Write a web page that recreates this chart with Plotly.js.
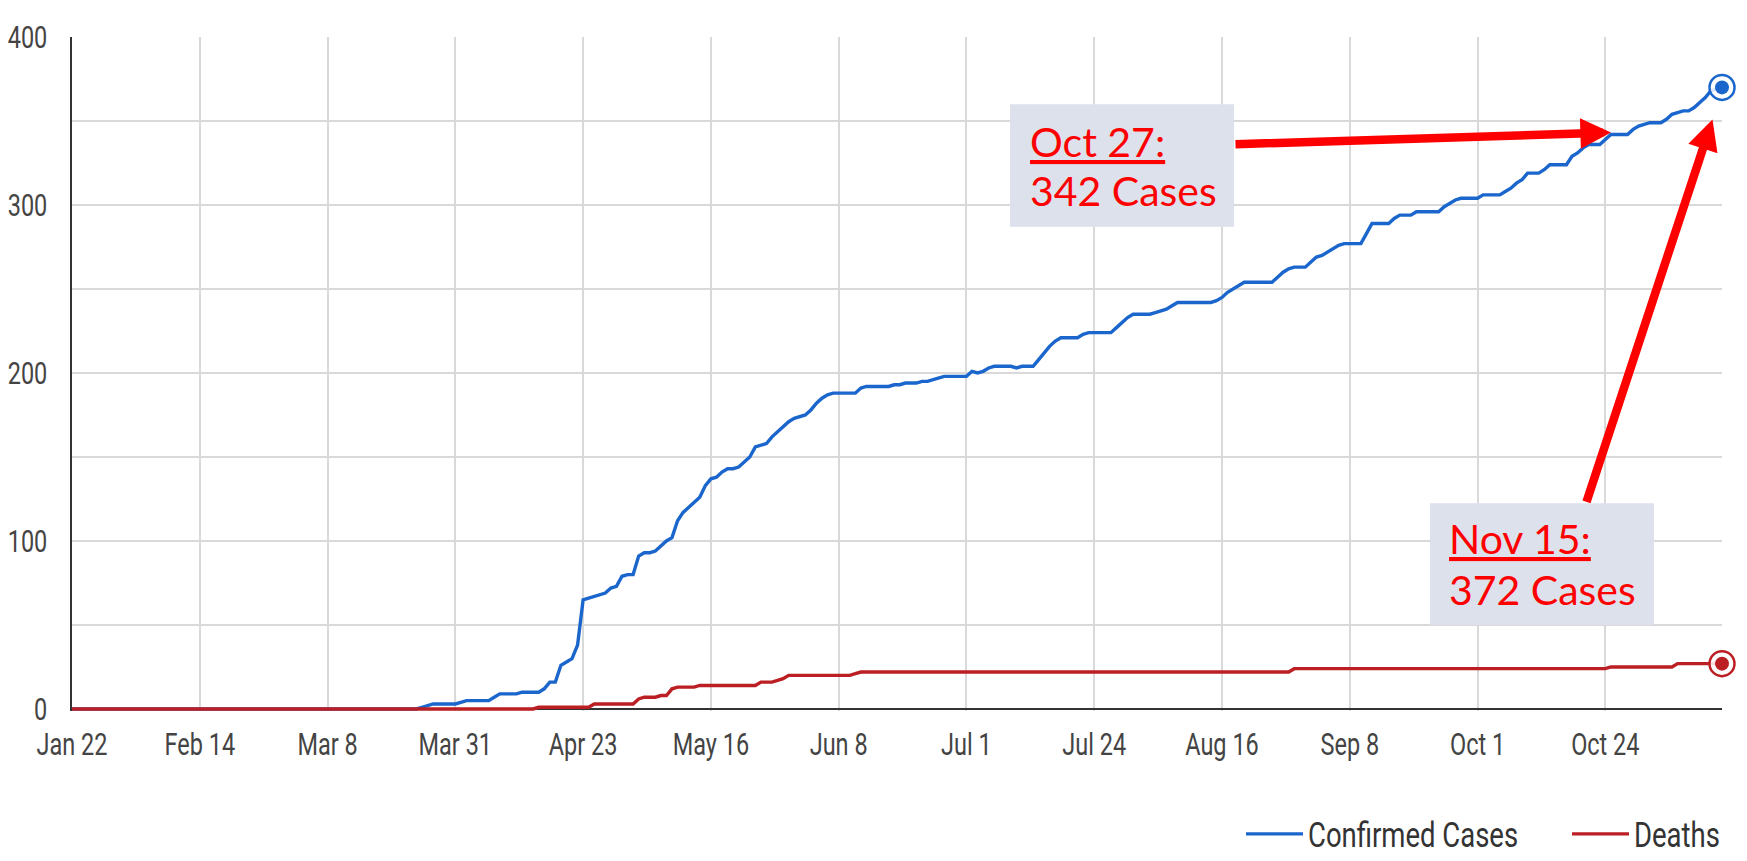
<!DOCTYPE html>
<html>
<head>
<meta charset="utf-8">
<script src="https://cdn.plot.ly/plotly-3.0.1.min.js"></script>
<style>
html, body { margin: 0; padding: 0; background: #ffffff; }
#chart { width: 1747px; height: 861px; }
.xtick, .ytick { transform-box: fill-box; transform-origin: 50% 50%; transform: scaleY(1.33); }
.legendtext { transform-box: fill-box; transform-origin: 50% 50%; transform: scaleY(1.28); }
</style>
</head>
<body>
<div id="chart"></div>
<script>
// ---------------- data ----------------
const startDate = '2020-01-22';
const endDate = '2020-11-14';
const seriesNames = ['Confirmed Cases', 'Deaths'];

// daily cumulative confirmed cases, Jan 22 .. Nov 14
const confirmedCases = [
  0,0,0,0,0,0,0,0,0,0,
  0,0,0,0,0,0,0,0,0,0,
  0,0,0,0,0,0,0,0,0,0,
  0,0,0,0,0,0,0,0,0,0,
  0,0,0,0,0,0,0,0,0,0,
  0,0,0,0,0,0,0,0,0,0,
  0,0,0,1,2,3,3,3,3,3,
  4,5,5,5,5,5,7,9,9,9,
  9,10,10,10,10,12,16,16,26,28,
  30,38,65,66,67,68,69,72,73,79,
  80,80,91,93,93,94,97,100,102,112,
  117,120,123,126,133,137,138,141,143,143,
  144,147,150,156,157,158,162,165,168,171,
  173,174,175,178,182,185,187,188,188,188,
  188,188,191,192,192,192,192,192,193,193,
  194,194,194,195,195,196,197,198,198,198,
  198,198,201,200,201,203,204,204,204,204,
  203,204,204,204,208,212,216,219,221,221,
  221,221,223,224,224,224,224,224,227,230,
  233,235,235,235,235,236,237,238,240,242,
  242,242,242,242,242,242,243,245,248,250,
  252,254,254,254,254,254,254,257,260,262,
  263,263,263,266,269,270,272,274,276,277,
  277,277,277,283,289,289,289,289,292,294,
  294,294,296,296,296,296,296,299,301,303,
  304,304,304,304,306,306,306,306,308,310,
  313,315,319,319,319,321,324,324,324,324,
  329,331,334,336,336,336,339,342,342,342,
  342,345,347,348,349,349,349,351,354,355,
  356,356,358,361,364,368,369,370
];

// daily cumulative deaths, Jan 22 .. Nov 14
const deaths = [
  0,0,0,0,0,0,0,0,0,0,
  0,0,0,0,0,0,0,0,0,0,
  0,0,0,0,0,0,0,0,0,0,
  0,0,0,0,0,0,0,0,0,0,
  0,0,0,0,0,0,0,0,0,0,
  0,0,0,0,0,0,0,0,0,0,
  0,0,0,0,0,0,0,0,0,0,
  0,0,0,0,0,0,0,0,0,0,
  0,0,0,0,1,1,1,1,1,1,
  1,1,1,1,3,3,3,3,3,3,
  3,3,6,7,7,7,8,8,12,13,
  13,13,13,14,14,14,14,14,14,14,
  14,14,14,14,16,16,16,17,18,20,
  20,20,20,20,20,20,20,20,20,20,
  20,21,22,22,22,22,22,22,22,22,
  22,22,22,22,22,22,22,22,22,22,
  22,22,22,22,22,22,22,22,22,22,
  22,22,22,22,22,22,22,22,22,22,
  22,22,22,22,22,22,22,22,22,22,
  22,22,22,22,22,22,22,22,22,22,
  22,22,22,22,22,22,22,22,22,22,
  22,22,22,22,22,22,22,22,22,22,
  24,24,24,24,24,24,24,24,24,24,
  24,24,24,24,24,24,24,24,24,24,
  24,24,24,24,24,24,24,24,24,24,
  24,24,24,24,24,24,24,24,24,24,
  24,24,24,24,24,24,24,24,24,24,
  24,24,24,24,24,24,24,25,25,25,
  25,25,25,25,25,25,25,25,25,27,
  27,27,27,27,27,27,27,27
];

const tickDates = ['2020-01-22','2020-02-14','2020-03-08','2020-03-31','2020-04-23','2020-05-16',
  '2020-06-08','2020-07-01','2020-07-24','2020-08-16','2020-09-08','2020-10-01','2020-10-24'];
const tickLabels = ['Jan 22','Feb 14','Mar 8','Mar 31','Apr 23','May 16',
  'Jun 8','Jul 1','Jul 24','Aug 16','Sep 8','Oct 1','Oct 24'];
const yTickValues = [0, 100, 200, 300, 400];

const calloutDates = ['<u>Oct 27:</u>', '<u>Nov 15:</u>'];
const calloutCases = ['342 Cases', '372 Cases'];

// ---------------- style ----------------
const BLUE = '#1a66cc';
const RED = '#bb1f24';
const CALLOUT_RED = '#ff0000';
const BOX_FILL = '#dde1ec';
const GRID = '#d9d9d9';
const DAY_MS = 86400000;

// plot area in pixels
const M = { l: 72, r: 25, t: 37, b: 150, autoexpand: false };
const PW = 1747 - M.l - M.r;
const PH = 861 - M.t - M.b;
const px = p => (p - M.l) / PW;           // pixel x -> paper x
const py = p => (M.t + PH - p) / PH;      // pixel y -> paper y

const lastCases = confirmedCases[confirmedCases.length - 1];
const lastDeaths = deaths[deaths.length - 1];

function endMarkers(value, color) {
  return [
    { x: [endDate], y: [value], type: 'scatter', mode: 'markers', showlegend: false, hoverinfo: 'skip',
      cliponaxis: false,
      marker: { size: 25, color: 'rgba(255,255,255,0.85)', line: { color: color, width: 2.5 } } },
    { x: [endDate], y: [value], type: 'scatter', mode: 'markers', showlegend: false, hoverinfo: 'skip',
      cliponaxis: false,
      marker: { size: 14, color: color, line: { width: 0 } } }
  ];
}

const traces = [
  { y: confirmedCases, x0: startDate, dx: DAY_MS, type: 'scatter', mode: 'lines', name: seriesNames[0],
    line: { color: BLUE, width: 3.4 }, legendwidth: 254 },
  { y: deaths, x0: startDate, dx: DAY_MS, type: 'scatter', mode: 'lines', name: seriesNames[1],
    line: { color: RED, width: 3.4 } },
  ...endMarkers(lastCases, BLUE),
  ...endMarkers(lastDeaths, RED)
];

const textFont = { family: 'Lato, "Open Sans", sans-serif', size: 41, color: CALLOUT_RED };

function calloutText(text, leftPx, topPx) {
  return { xref: 'paper', yref: 'paper', x: px(leftPx), y: py(topPx), xanchor: 'left', yanchor: 'top',
    text: text, showarrow: false, align: 'left', font: textFont, borderpad: 0, borderwidth: 0 };
}

const layout = {
  width: 1747, height: 861,
  margin: M,
  paper_bgcolor: '#ffffff', plot_bgcolor: '#ffffff',
  showlegend: true,
  hovermode: false,
  font: { family: 'Roboto, sans-serif', color: '#444444' },
  xaxis: {
    type: 'date',
    range: [startDate, endDate],
    tickmode: 'array', tickvals: tickDates, ticktext: tickLabels,
    showgrid: true, gridcolor: GRID, gridwidth: 2,
    zeroline: false, showline: false, ticks: '',
    tickfont: { family: 'Roboto, sans-serif', size: 23.5, color: '#444444' },
    ticklabelstandoff: 17,
    automargin: false,
    fixedrange: true
  },
  yaxis: {
    range: [-1.2, 400],
    tickmode: 'array', tickvals: yTickValues,
    showgrid: true, gridcolor: GRID, gridwidth: 2,
    minor: { dtick: 50, tick0: 0, showgrid: true, gridcolor: GRID, gridwidth: 2, ticks: '' },
    zeroline: true, zerolinecolor: '#333333', zerolinewidth: 2,
    showline: true, linecolor: '#333333', linewidth: 2,
    ticks: '',
    tickfont: { family: 'Roboto, sans-serif', size: 23.5, color: '#444444' },
    ticklabelstandoff: 18,
    automargin: false,
    fixedrange: true
  },
  legend: {
    orientation: 'h', x: px(1241), xanchor: 'left', y: py(834), yanchor: 'middle',
    font: { family: 'Roboto, sans-serif', size: 27.5, color: '#333333' },
    bgcolor: 'rgba(0,0,0,0)', itemwidth: 57
  },
  shapes: [
    { type: 'rect', xref: 'paper', yref: 'paper', layer: 'above',
      x0: px(1010), x1: px(1234), y0: py(226.7), y1: py(104.3),
      fillcolor: BOX_FILL, line: { width: 0 } },
    { type: 'rect', xref: 'paper', yref: 'paper', layer: 'above',
      x0: px(1430), x1: px(1654), y0: py(625), y1: py(503.3),
      fillcolor: BOX_FILL, line: { width: 0 } }
  ],
  annotations: [
    calloutText(calloutDates[0], 1030, 116.5),
    calloutText(calloutCases[0], 1030, 165.8),
    calloutText(calloutDates[1], 1449, 513.8),
    calloutText(calloutCases[1], 1449, 564.8),
    // arrows
    { xref: 'paper', yref: 'paper', x: px(1611), y: py(132.5), text: '', showarrow: true,
      axref: 'pixel', ayref: 'pixel', ax: 1234 - 1611, ay: 144.3 - 132.5,
      arrowcolor: CALLOUT_RED, arrowwidth: 8.5, arrowhead: 2, arrowsize: 0.72, standoff: 0 },
    { xref: 'paper', yref: 'paper', x: px(1712.5), y: py(119.5), text: '', showarrow: true,
      axref: 'pixel', ayref: 'pixel', ax: 1586 - 1712.5, ay: 503.3 - 119.5,
      arrowcolor: CALLOUT_RED, arrowwidth: 8.5, arrowhead: 2, arrowsize: 0.72, standoff: 0 }
  ]
};

Plotly.newPlot('chart', traces, layout, { displayModeBar: false, staticPlot: true, responsive: false });
</script>
</body>
</html>
